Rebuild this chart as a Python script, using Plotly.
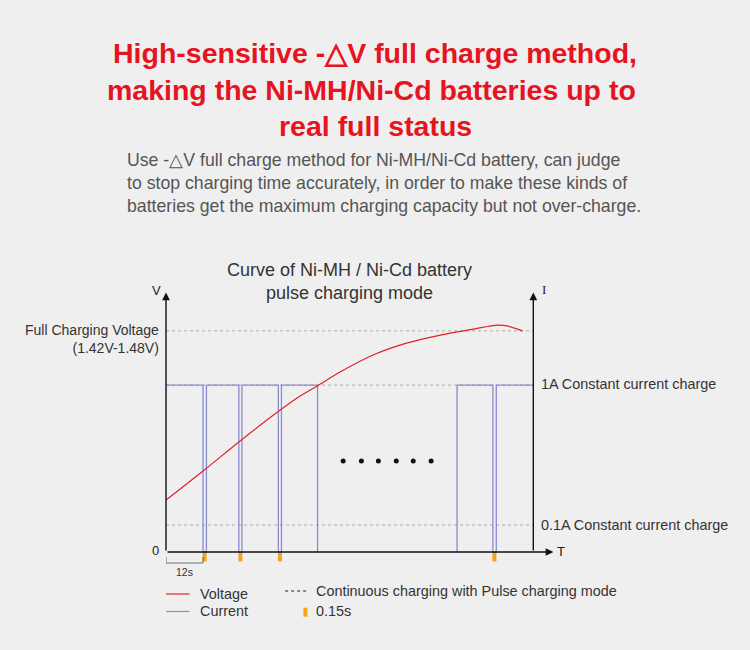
import plotly.graph_objects as go

# ---------------- data ----------------
# current pulse train (time in s, level in chart units; 1A level / 0 level)
I_1A = 63.7
I_01A = 10.3
V_FULL = 84.4
current_t = [0, 12, 12, 13.1, 13.1, 23.6, 23.6, 24.6, 24.6, 36.4, 36.4, 37.4, 37.4, 49.1, 49.1,
             None, 94.3, 94.3, 105.9, 105.9, 107.0, 107.0, 119]
current_level = [I_1A, I_1A, 0, 0, I_1A, I_1A, 0, 0, I_1A, I_1A, 0, 0, I_1A, I_1A, 0,
                 None, 0, I_1A, I_1A, 0, 0, I_1A, I_1A]

voltage_t = [0, 12, 24, 37, 42.5, 49, 56.4, 67.1, 78.2, 88.9, 99.6, 107.4, 110.6, 115.5]
voltage_level = [19.8, 30.9, 42.4, 54.2, 58.8, 63.4, 68.7, 75.2, 79.8, 82.8, 85.1, 86.6, 86.3, 84.4]

pulse_off_t = [12.5, 24.1, 36.9, 106.4]
pulse_mark_len = [-3.6, -3.6, -3.6, -3.6]

period_s = 12
T_END = 119
ellipsis_t = [57.4, 63.3, 68.8, 74.6, 80.1, 85.9]
ellipsis_level = [34.7] * 6

ref_levels = [V_FULL, I_1A, I_01A]

FONT = "Liberation Sans, Arial, sans-serif"
RED = "#e0202a"
PURPLE = "#8a8ad0"
ORANGE = "#f5a31a"
GREY_DOT = "#aaaaaa"

# layout geometry (pixels)
L, R_PX, T, B_PX = 166, 557.6, 290, 580
W, H = 750, 650
X_MAX = 127
Y_MIN, Y_MAX = -10.69, 100


def px(x):
    return (x - L) / (R_PX - L)


def py(y):
    return (B_PX - y) / (B_PX - T)


fig = go.Figure()

# dotted reference lines
for lv in ref_levels:
    fig.add_trace(go.Scatter(x=[0, T_END], y=[lv, lv], mode="lines",
                             line=dict(color=GREY_DOT, width=1, dash="dot"),
                             hoverinfo="skip", showlegend=False))

fig.add_trace(go.Scatter(x=current_t, y=current_level, mode="lines",
                         line=dict(color=PURPLE, width=1.3), name="Current",
                         showlegend=False, connectgaps=False))

fig.add_trace(go.Scatter(x=voltage_t, y=voltage_level, mode="lines",
                         line=dict(color=RED, width=1.2, shape="spline", smoothing=0.8),
                         name="Voltage", showlegend=False))

fig.add_trace(go.Bar(x=pulse_off_t, y=pulse_mark_len, base=0, width=1.3,
                     marker=dict(color=ORANGE, line=dict(width=0)),
                     showlegend=False, hoverinfo="skip"))

fig.add_trace(go.Scatter(x=ellipsis_t, y=ellipsis_level, mode="markers",
                         marker=dict(color="#111111", size=5),
                         showlegend=False, hoverinfo="skip"))

# 12s bracket
fig.add_trace(go.Scatter(x=[0, 0, period_s, period_s], y=[-1.9, -4.2, -4.2, -1.9], mode="lines",
                         line=dict(color="#555555", width=0.8),
                         showlegend=False, hoverinfo="skip"))

ann = []

# axes as arrows
for (x, y, ax, ay) in [(0, 99, 0, 0), (T_END, 99, T_END, 0), (125.5, 0, 0, 0)]:
    ann.append(dict(x=x, y=y, ax=ax, ay=ay, xref="x", yref="y", axref="x", ayref="y",
                    text="", showarrow=True, arrowhead=2, arrowsize=1.1, arrowwidth=1.4,
                    arrowcolor="#111111", standoff=0, startstandoff=0))


def label(text, x, y, size, color="#333333", xanchor="center", yanchor="middle",
          xref="paper", yref="paper", xshift=0, yshift=0, align="center", family=FONT):
    ann.append(dict(text=text, x=x, y=y, xref=xref, yref=yref, showarrow=False,
                    xanchor=xanchor, yanchor=yanchor, xshift=xshift, yshift=yshift,
                    align=align, font=dict(family=family, size=size, color=color)))


# headline
label("<b>High-sensitive -△V full charge method,</b>", px(375), py(53), 28.5, color="#e5141f")
label("<b>making the Ni-MH/Ni-Cd batteries up to</b>", px(371), py(90), 28.5, color="#e5141f")
label("<b>real full status</b>", px(375), py(126), 28.5, color="#e5141f")

# sub text
sub = ("Use -△V full charge method for Ni-MH/Ni-Cd battery, can judge<br>"
       "to stop charging time accurately, in order to make these kinds of<br>"
       "batteries get the maximum charging capacity but not over-charge.")
label(sub, px(125), py(183), 17.7, color="#555555", xanchor="left", align="left")

# chart title
label("Curve of Ni-MH / Ni-Cd battery<br>pulse charging mode", px(349), py(281), 18,
      color="#333333")

# axis letters
label("V", 0, 99, 13, color="#222222", xref="x", yref="y", xanchor="right", xshift=-3, yshift=2)
label("I", T_END, 99, 13, color="#222222", xref="x", yref="y", xanchor="left", xshift=7, yshift=3,
      family="Liberation Serif, serif")
label("T", 125.5, 0, 13, color="#222222", xref="x", yref="y", xanchor="left", xshift=2)
label("0", 0, 0, 13, color="#222222", xref="x", yref="y", xanchor="right", xshift=-5, yshift=1)

label("Full Charging Voltage<br>(1.42V-1.48V)", 0, V_FULL, 14, xref="x", yref="y",
      xanchor="right", xshift=-5, yshift=-8, align="right")
label("1A Constant current charge", T_END, I_1A, 14.4, xref="x", yref="y",
      xanchor="left", xshift=6, yshift=1)
label("0.1A Constant current charge", T_END, I_01A, 14.4, xref="x", yref="y",
      xanchor="left", xshift=6)
label("12s", period_s / 2, -4.2, 10.5, xref="x", yref="y", yanchor="top", yshift=-1)

# legend (manual)
shapes = [
    dict(type="line", xref="paper", yref="paper", x0=px(166), x1=px(189.5), y0=py(594), y1=py(594),
         line=dict(color=RED, width=1.2)),
    dict(type="line", xref="paper", yref="paper", x0=px(166), x1=px(189.5), y0=py(611.5), y1=py(611.5),
         line=dict(color=PURPLE, width=1.2)),
    dict(type="line", xref="paper", yref="paper", x0=px(285), x1=px(307), y0=py(591), y1=py(591),
         line=dict(color="#888888", width=2, dash="dot")),
    dict(type="rect", xref="paper", yref="paper", x0=px(303.3), x1=px(307.3), y0=py(616.7), y1=py(607.7),
         fillcolor=ORANGE, line=dict(width=0)),
]
label("Voltage", px(197.5), py(594), 14.4, xanchor="left")
label("Current", px(197.5), py(611), 14.4, xanchor="left")
label("Continuous charging with Pulse charging mode", px(314), py(590.5), 14.4, xanchor="left")
label("0.15s", px(314), py(611), 14.4, xanchor="left")

fig.update_layout(
    width=W, height=H,
    margin=dict(l=L, r=W - R_PX, t=T, b=H - B_PX, pad=0),
    paper_bgcolor="#efefef", plot_bgcolor="#efefef",
    xaxis=dict(range=[0, X_MAX], visible=False, fixedrange=True),
    yaxis=dict(range=[Y_MIN, Y_MAX], visible=False, fixedrange=True),
    showlegend=False, barmode="overlay",
    annotations=ann, shapes=shapes,
)

fig.write_html("out.html", config={"displayModeBar": False},
               post_script="document.body.style.margin='0';document.body.style.background='#efefef';")
